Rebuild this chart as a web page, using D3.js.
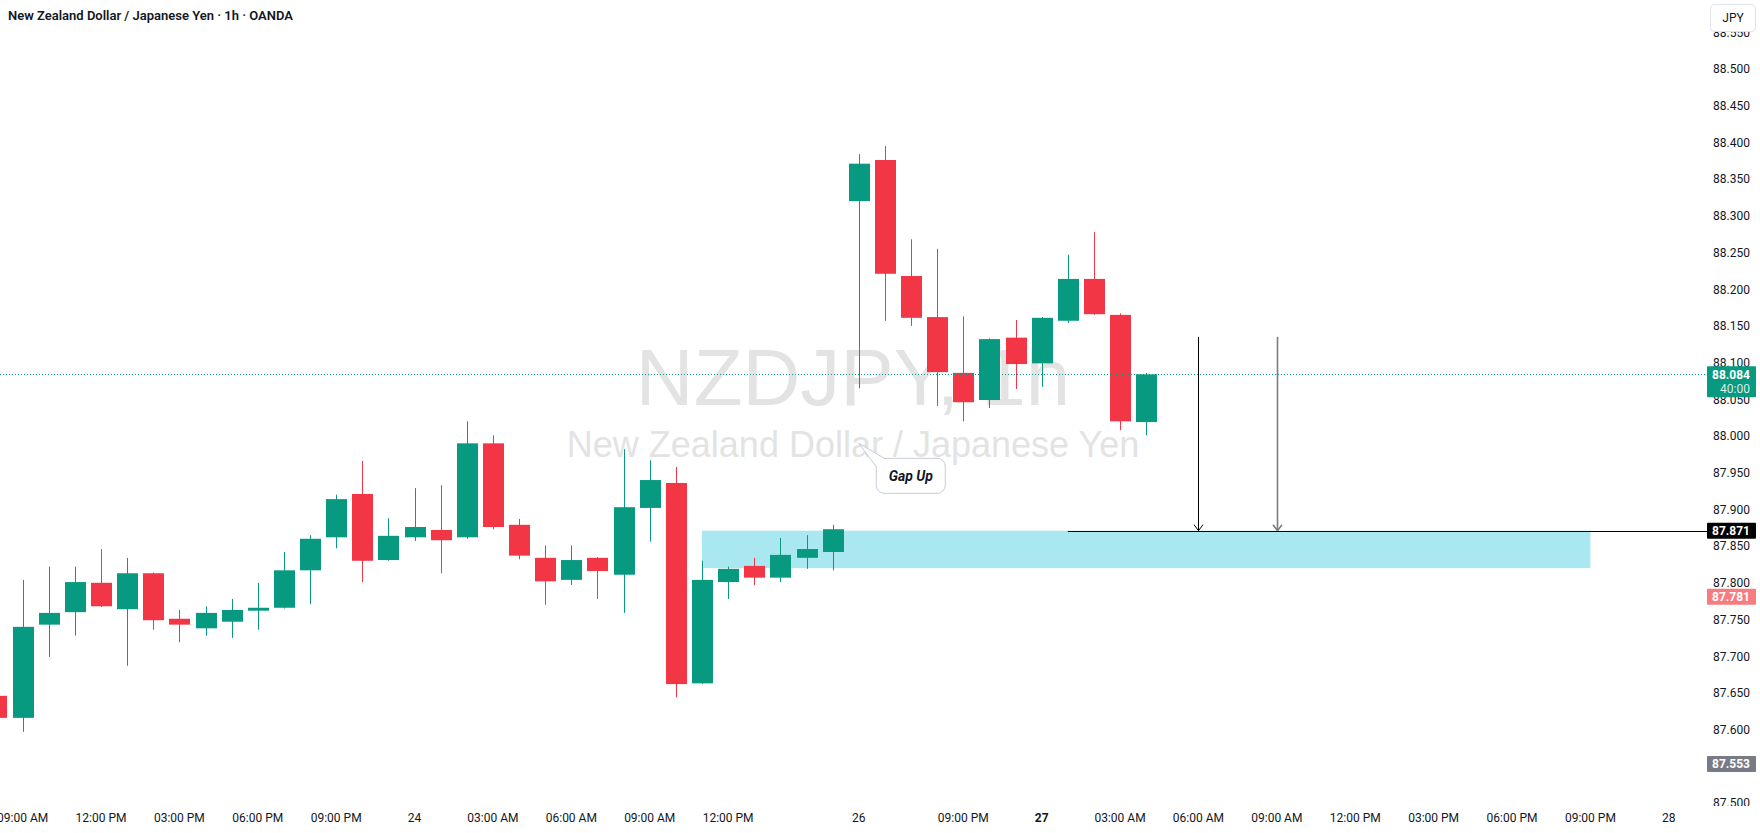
<!DOCTYPE html>
<html>
<head>
<meta charset="utf-8">
<script src="https://cdn.jsdelivr.net/npm/d3@7"></script>
<style>
  body { margin: 0; background: #fff; }
  svg { display: block; }
</style>
</head>
<body>
<svg id="chart"></svg>
<script>
// NZDJPY 1h candles, TradingView-style, drawn with D3

// bar index: 0 = 23rd 09:00, 31 = 24th 16:00 (Fri close), 32 = 26th 17:00 (Sun open)
const barIdx = d3.range(-1, 44);
const barOpen = [
  87.646, 87.616, 87.743, 87.760, 87.800, 87.764, 87.813, 87.751, 87.738, 87.747,
  87.762, 87.766, 87.817, 87.862, 87.921, 87.831, 87.862, 87.872, 87.862, 87.990,
  87.879, 87.834, 87.804, 87.834, 87.811, 87.902, 87.936, 87.663, 87.801, 87.823,
  87.807, 87.834, 87.842, 88.320, 88.376, 88.218, 88.162, 88.086, 88.049, 88.134,
  88.099, 88.157, 88.214, 88.165, 88.019,
];
const barHigh = [
  87.655, 87.804, 87.822, 87.822, 87.846, 87.834, 87.814, 87.763, 87.768, 87.778,
  87.800, 87.842, 87.865, 87.920, 87.966, 87.888, 87.929, 87.933, 88.020, 88.001,
  87.887, 87.851, 87.851, 87.835, 87.982, 87.967, 87.958, 87.830, 87.822, 87.834,
  87.861, 87.865, 87.879, 88.384, 88.395, 88.268, 88.255, 88.163, 88.133, 88.158,
  88.162, 88.247, 88.278, 88.167, 88.086,
];
const barLow = [
  87.605, 87.597, 87.699, 87.728, 87.767, 87.687, 87.736, 87.719, 87.728, 87.725,
  87.736, 87.765, 87.771, 87.847, 87.801, 87.830, 87.857, 87.813, 87.860, 87.873,
  87.832, 87.770, 87.797, 87.778, 87.759, 87.856, 87.644, 87.662, 87.778, 87.797,
  87.801, 87.819, 87.817, 88.065, 88.157, 88.150, 88.041, 88.020, 88.038, 88.064,
  88.067, 88.154, 88.165, 88.008, 88.001,
];
const barClose = [
  87.616, 87.740, 87.759, 87.801, 87.768, 87.813, 87.749, 87.743, 87.759, 87.763,
  87.766, 87.817, 87.860, 87.914, 87.830, 87.864, 87.876, 87.858, 87.990, 87.876,
  87.837, 87.802, 87.831, 87.816, 87.903, 87.940, 87.662, 87.804, 87.819, 87.807,
  87.838, 87.846, 87.873, 88.371, 88.221, 88.161, 88.087, 88.046, 88.132, 88.098,
  88.161, 88.214, 88.166, 88.020, 88.084,
];

const timeTickIdx = [0, 3, 6, 9, 12, 15, 18, 21, 24, 27, 32, 36, 39, 42, 45, 48, 51, 54, 57, 60, 63];
const timeTickLabel = [
  '09:00 AM', '12:00 PM', '03:00 PM', '06:00 PM', '09:00 PM', '24', '03:00 AM', '06:00 AM',
  '09:00 AM', '12:00 PM', '26', '09:00 PM', '27', '03:00 AM', '06:00 AM', '09:00 AM',
  '12:00 PM', '03:00 PM', '06:00 PM', '09:00 PM', '28',
];
const boldTimeTicks = ['27'];

const priceTicks = [
  87.50, 87.55, 87.60, 87.65, 87.70, 87.75, 87.80, 87.85, 87.90, 87.95, 88.00,
  88.05, 88.10, 88.15, 88.20, 88.25, 88.30, 88.35, 88.40, 88.45, 88.50, 88.55,
];

// drawings
const lastPrice = 88.084, countdown = '40:00';
const levelPrice = 87.871, levelStartIdx = 40;
const zoneTop = 87.871, zoneBottom = 87.820, zoneStartIdx = 26, zoneEndIdx = 60;
const arrowIdx = [45, 48], arrowFrom = 88.135;
const markerLow = 87.781, markerOther = 87.553;
const gapNoteIdx = 32, gapNotePrice = 87.990, gapNoteText = 'Gap Up';

const W = 1760, H = 833;
const paneW = 1698, paneH = 806;
const FONT = 'Roboto, "Noto Sans", sans-serif';
const UP = '#089981', DOWN = '#f23645';

const svg = d3.select('#chart').attr('width', W).attr('height', H)
  .style('font-family', FONT);

svg.append('defs').html(`
  <clipPath id="paneClip"><rect x="0" y="0" width="${paneW}" height="${paneH}"/></clipPath>
  <clipPath id="axisClip"><rect x="${paneW}" y="0" width="${W - paneW}" height="${paneH}"/></clipPath>
`);

const x = d3.scaleLinear().domain([0, 63]).range([22.6, 1668.8]);
const y = d3.scaleLinear().domain([87.5, 88.5]).range([803, 69]);
const step = x(1) - x(0);
const bodyW = Math.round(step * 0.8);

const pane = svg.append('g').attr('clip-path', 'url(#paneClip)');

// watermark
const wm = pane.append('g').attr('fill', '#e3e3e3').attr('text-anchor', 'middle')
  .style('font-family', '"Liberation Sans", Arial, sans-serif');
wm.append('text').attr('x', paneW / 2 + 4).attr('y', 405).attr('font-size', 80).text('NZDJPY, 1h');
wm.append('text').attr('x', paneW / 2 + 4).attr('y', 457).attr('font-size', 36).text('New Zealand Dollar / Japanese Yen');

// zone rectangle
pane.append('rect')
  .attr('x', x(zoneStartIdx)).attr('y', y(zoneTop))
  .attr('width', x(zoneEndIdx) - x(zoneStartIdx)).attr('height', y(zoneBottom) - y(zoneTop))
  .attr('fill', '#a9e8f0');

// candles
const bars = barIdx.map((i, k) => ({ i, o: barOpen[k], h: barHigh[k], l: barLow[k], c: barClose[k] }));
const cg = pane.append('g');
cg.selectAll('line.wick').data(bars).join('line')
  .attr('class', 'wick')
  .attr('x1', d => Math.round(x(d.i)) + 0.5).attr('x2', d => Math.round(x(d.i)) + 0.5)
  .attr('y1', d => y(d.h)).attr('y2', d => y(d.l))
  .attr('stroke', d => d.c >= d.o ? UP : DOWN).attr('stroke-width', 1);
cg.selectAll('rect.body').data(bars).join('rect')
  .attr('class', 'body')
  .attr('x', d => Math.round(x(d.i)) + 0.5 - bodyW / 2)
  .attr('y', d => y(Math.max(d.o, d.c)))
  .attr('width', bodyW)
  .attr('height', d => Math.max(1, Math.abs(y(d.o) - y(d.c))))
  .attr('fill', d => d.c >= d.o ? UP : DOWN);

// last price dotted line
svg.append('line')
  .attr('x1', 0).attr('x2', 1707)
  .attr('y1', Math.round(y(lastPrice)) + 0.5).attr('y2', Math.round(y(lastPrice)) + 0.5)
  .attr('stroke', UP).attr('stroke-width', 1).attr('stroke-dasharray', '1,2');

// horizontal level line
svg.append('line')
  .attr('x1', x(levelStartIdx)).attr('x2', 1707)
  .attr('y1', Math.round(y(levelPrice)) + 0.5).attr('y2', Math.round(y(levelPrice)) + 0.5)
  .attr('stroke', '#000').attr('stroke-width', 1.2);

// arrows
arrowIdx.forEach((ai, k) => {
  const ax = Math.round(x(ai)) + 0.5;
  const y0 = y(arrowFrom), y1 = y(levelPrice);
  const col = k === 0 ? '#000' : '#7d7d7d';
  const sw = k === 0 ? 1 : 1.6;
  const g = pane.append('g').attr('stroke', col).attr('stroke-width', sw).attr('fill', 'none');
  g.append('line').attr('x1', ax).attr('x2', ax).attr('y1', y0).attr('y2', y1);
  g.append('path').attr('d', `M${ax - 4.5},${y1 - 6} L${ax},${y1} L${ax + 4.5},${y1 - 6}`);
});

// Gap Up callout
{
  const axp = x(gapNoteIdx), ayp = y(gapNotePrice);
  const bx = axp + 17.5, by = ayp + 15, bw = 69, bh = 35, r = 8;
  const g = pane.append('g');
  g.append('rect').attr('x', bx).attr('y', by).attr('width', bw).attr('height', bh)
    .attr('rx', r).attr('fill', '#fff').attr('stroke', '#c9ccd6').attr('stroke-width', 1);
  g.append('path')
    .attr('d', `M${bx + 0.5},${by + 9} L${axp},${ayp} L${bx + 9},${by + 0.5}`)
    .attr('fill', '#fff').attr('stroke', '#c9ccd6').attr('stroke-width', 1);
  g.append('text').attr('x', bx + bw / 2).attr('y', by + 23)
    .attr('text-anchor', 'middle').attr('font-size', 14).attr('font-weight', 700)
    .attr('font-style', 'italic').attr('fill', '#131722').text(gapNoteText);
}

// price axis
const pa = svg.append('g').attr('clip-path', 'url(#axisClip)');
pa.selectAll('text.ptick').data(priceTicks).join('text')
  .attr('class', 'ptick')
  .attr('x', 1750).attr('y', d => y(d)).attr('dy', '0.36em')
  .attr('text-anchor', 'end').attr('font-size', 12).attr('fill', '#131722')
  .text(d => d.toFixed(3));

function badge(price, fill, lines) {
  const cy = y(price);
  const h = lines.length === 1 ? 16 : 31;
  const top = cy - (lines.length === 1 ? h / 2 : 8);
  const g = svg.append('g');
  g.append('rect').attr('x', 1707).attr('y', top).attr('width', 49).attr('height', h)
    .attr('rx', 1).attr('fill', fill);
  lines.forEach((t, k) => {
    g.append('text').attr('x', 1750).attr('y', top + 8 + k * 14.5).attr('dy', '0.36em')
      .attr('text-anchor', 'end').attr('font-size', 12).attr('font-weight', k === 0 ? 700 : 400)
      .attr('fill', k === 0 ? '#fff' : 'rgba(255,255,255,0.85)').text(t);
  });
}
badge(lastPrice, UP, [lastPrice.toFixed(3), countdown]);
badge(levelPrice, '#000', [levelPrice.toFixed(3)]);
badge(markerLow, '#f77c80', [markerLow.toFixed(3)]);
badge(markerOther, '#787b86', [markerOther.toFixed(3)]);

// time axis
svg.append('rect').attr('x', 0).attr('y', paneH).attr('width', W).attr('height', H - paneH).attr('fill', '#fff');
svg.selectAll('text.ttick').data(timeTickIdx).join('text')
  .attr('class', 'ttick')
  .attr('x', d => x(d)).attr('y', 822)
  .attr('text-anchor', 'middle').attr('font-size', 12).attr('fill', '#131722')
  .attr('font-weight', (d, k) => boldTimeTicks.includes(timeTickLabel[k]) ? 700 : 400)
  .text((d, k) => timeTickLabel[k]);

// title
svg.append('text').attr('x', 8).attr('y', 20)
  .attr('font-size', 13).attr('font-weight', 600).attr('fill', '#131722')
  .text('New Zealand Dollar / Japanese Yen · 1h · OANDA');

// currency button
const btn = svg.append('g');
btn.append('rect').attr('x', 1710.5).attr('y', 4.5).attr('width', 45).attr('height', 27)
  .attr('rx', 4).attr('fill', '#fff').attr('stroke', '#e0e3eb');
btn.append('text').attr('x', 1733).attr('y', 17.5).attr('dy', '0.36em')
  .attr('text-anchor', 'middle').attr('font-size', 12).attr('fill', '#131722').text('JPY');
</script>
</body>
</html>
